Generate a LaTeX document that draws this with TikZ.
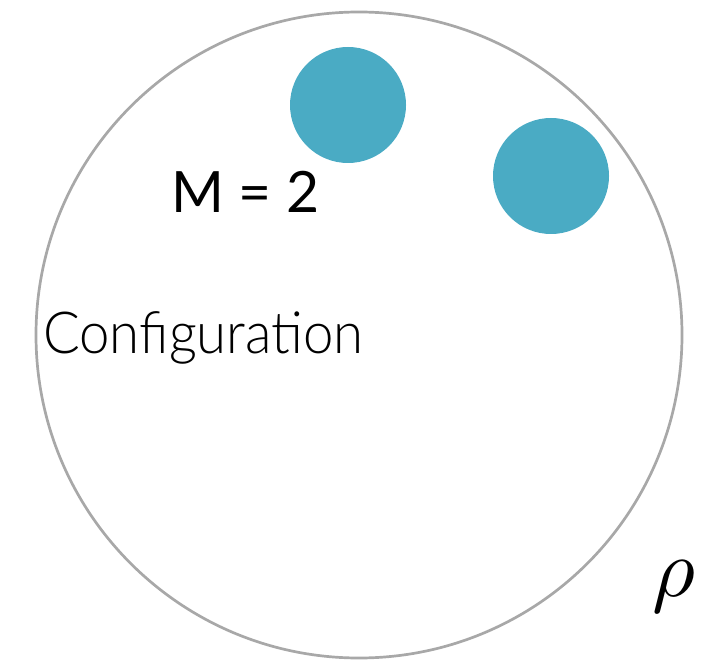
\documentclass[tikz,border=0pt]{standalone}
\usepackage{fontspec}
\setmainfont{Lato}
\IfFontExistsTF{Lato Light}{\newfontfamily\lightfont{Lato Light}}{\newfontfamily\lightfont{Lato}}
\definecolor{ringgray}{HTML}{A8A8A8}
\definecolor{ballblue}{HTML}{4AABC4}
\begin{document}
\begin{tikzpicture}[x=1pt,y=-1pt,
  ring/.style={draw=ringgray,line width=2.7pt},
  ball/.style={fill=ballblue},
  lbl/.style={inner sep=0pt,anchor=base west,text=black}]
\useasboundingbox (0,0) rectangle (714,660);
\draw[ring] (359,335) circle[radius=323];
\fill[ball] (348,105) circle[radius=58];
\fill[ball] (551,176) circle[radius=58];
\node[lbl,font=\fontsize{57}{60}\selectfont] (m) at (171,213) {M = 2};
\node[lbl,font=\lightfont\fontsize{58}{60}\selectfont,xscale=0.94] (conf) at (43,353) {Configuration};
\node[lbl] (rho) at (652,596) {\scalebox{8.3}{$\rho$}};
\end{tikzpicture}
\end{document}
